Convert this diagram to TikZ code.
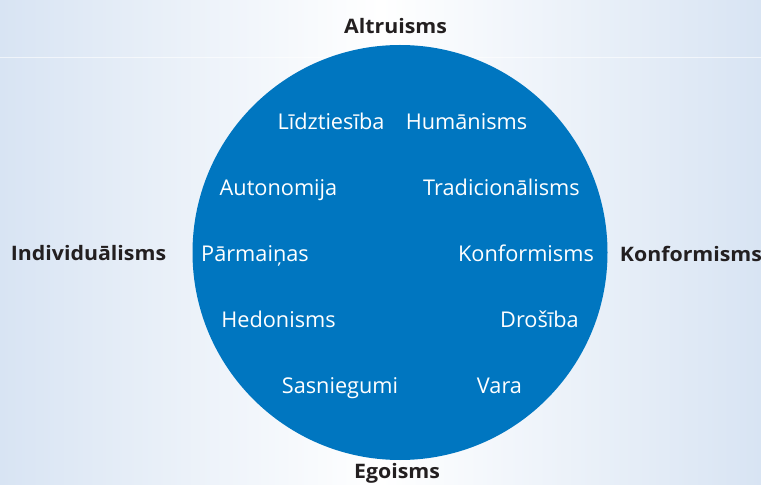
\documentclass[tikz,border=0pt]{standalone}
\usepackage{fontspec}
\setmainfont{Open Sans}
\newfontfamily\boldlab[FakeStretch=1.07]{Open Sans}
\definecolor{circblue}{RGB}{0,118,192}
\definecolor{edgeblue}{RGB}{216,228,243}
\definecolor{labelgray}{RGB}{35,31,32}
\begin{document}
\begin{tikzpicture}[x=1bp,y=-1bp,
  inner/.style={text=white,anchor=base,inner sep=0pt,font=\fontsize{21.8}{24}\selectfont},
  outer/.style={text=labelgray,anchor=base,inner sep=0pt,font=\boldlab\fontsize{20}{24}\selectfont\bfseries}]
\useasboundingbox (0,0) rectangle (761,485);
\shade[left color=edgeblue,right color=edgeblue,middle color=white] (0,0) rectangle (761,485);
\draw[white,opacity=0.6,line width=0.8bp] (0,57) -- (761,57);
\fill[circblue] (400,252.5) circle[radius=207.5];
% outer labels
\node[outer] (altr) at (395.5,33.3) {Altruisms};
\node[outer] (ego) at (397,478) {Egoisms};
\node[outer] (indiv) at (88.5,260.7) {Individuālisms};
\node[outer] (konfo) at (691,261.7) {Konformisms};
% inner labels
\node[inner] (lidz) at (331,129.5) {Līdztiesība};
\node[inner] (hum) at (466.5,129.5) {Humānisms};
\node[inner] (auto) at (278.5,196) {Autonomija};
\node[inner] (trad) at (501.5,196) {Tradicionālisms};
\node[inner] (parm) at (255,262) {Pārmaiņas};
\node[inner] (konf) at (526,262) {Konformisms};
\node[inner] (hedo) at (278.5,327.5) {Hedonisms};
\node[inner] (dros) at (539.5,327.5) {Drošība};
\node[inner] (sasn) at (340,393) {Sasniegumi};
\node[inner] (vara) at (499.5,393) {Vara};
\end{tikzpicture}
\end{document}
